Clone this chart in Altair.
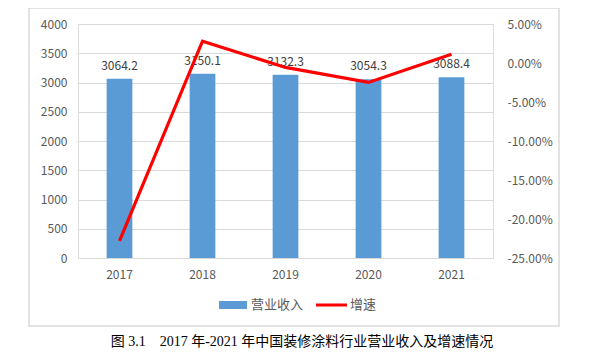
import altair as alt
import pandas as pd

years = ["2017", "2018", "2019", "2020", "2021"]
revenue = [3064.2, 3150.1, 3132.3, 3054.3, 3088.4]
growth = [-0.228, 0.028, -0.0057, -0.0249, 0.0112]
left_ticks = [0, 500, 1000, 1500, 2000, 2500, 3000, 3500, 4000]
right_ticks = [-0.25, -0.20, -0.15, -0.10, -0.05, 0.0, 0.05]
legend_labels = ["营业收入", "增速"]
caption = "图 3.1　2017 年-2021 年中国装修涂料行业营业收入及增速情况"

df = pd.DataFrame({"year": years, "revenue": revenue, "growth": growth,
                   "label": [f"{v:.1f}" for v in revenue]})

W, H = 415, 234
FONT = "Noto Sans CJK SC"
GRAY = "#595959"

xenc = alt.X("year:N", title=None,
             scale=alt.Scale(paddingInner=0.69, paddingOuter=0.345),
             axis=alt.Axis(labelAngle=0, domain=False, ticks=False, labelPadding=11,
                           labelColor=GRAY, labelFontSize=12, labelFont=FONT))

yleft = alt.Y("revenue:Q", title=None,
              scale=alt.Scale(domain=[0, 4000], nice=False),
              axis=alt.Axis(values=left_ticks, format="d", labelOverlap=False,
                            tickCount=9,
                            grid=True, gridColor="#D9D9D9",
                            domain=False, ticks=False, labelPadding=11,
                            labelColor=GRAY, labelFontSize=12, labelFont=FONT))

base = alt.Chart(df)

border = alt.Chart(pd.DataFrame({"a": [0]})).mark_rect(
    fill="transparent", stroke="#D9D9D9", strokeWidth=1.5
).encode(x=alt.value(-49), x2=alt.value(481), y=alt.value(-16), y2=alt.value(302))

bars = base.mark_bar(color="#5B9BD5").encode(x=xenc, y=yleft)

labels = base.mark_text(baseline="bottom", dy=-6, fontSize=12, color="#404040", font=FONT).encode(
    x=xenc, y=yleft, text="label:N",
)

line = base.mark_line(color="#FF0000", strokeWidth=3.2).encode(
    x=xenc,
    y=alt.Y("growth:Q", title=None,
            scale=alt.Scale(domain=[-0.25, 0.05], nice=False),
            axis=alt.Axis(orient="right", values=right_ticks, grid=False,
                          labelExpr="replace(format(datum.value, '.2%'), '\u2212', '-')",
                          labelOverlap=False,
                          domain=False, ticks=False, labelPadding=14,
                          labelColor=GRAY, labelFontSize=12, labelFont=FONT)),
)

leg_rect = alt.Chart(pd.DataFrame({"a": [0]})).mark_rect(color="#5B9BD5").encode(
    x=alt.value(141), x2=alt.value(169), y=alt.value(277), y2=alt.value(285))
leg_line = alt.Chart(pd.DataFrame({"a": [0]})).mark_rule(color="#FF0000", strokeWidth=3).encode(
    x=alt.value(238), x2=alt.value(269), y=alt.value(281))
leg_text1 = alt.Chart(pd.DataFrame({"t": [legend_labels[0]]})).mark_text(
    align="left", baseline="middle", fontSize=13, color=GRAY, font=FONT
).encode(x=alt.value(173), y=alt.value(281), text="t:N")
leg_text2 = alt.Chart(pd.DataFrame({"t": [legend_labels[1]]})).mark_text(
    align="left", baseline="middle", fontSize=13, color=GRAY, font=FONT
).encode(x=alt.value(272), y=alt.value(281), text="t:N")

cap = alt.Chart(pd.DataFrame({"t": [caption]})).mark_text(
    align="center", baseline="middle", fontSize=14, color="#000000", fontWeight="normal",
    font="Liberation Serif, Noto Sans CJK SC"
).encode(x=alt.value(224), y=alt.value(318), text="t:N")

left_layer = alt.layer(bars, labels)
chart = alt.layer(
    border, left_layer, line, leg_rect, leg_line, leg_text1, leg_text2, cap
).resolve_scale(y="independent").properties(
    width=W, height=H,
    autosize=alt.AutoSizeParams(type="none"),
    padding={"left": 70, "top": 16, "right": 86, "bottom": 92},
).configure_view(strokeWidth=0).configure(background="#FFFFFF")

chart.save("out.html", embed_options={"renderer": "svg", "actions": False})
